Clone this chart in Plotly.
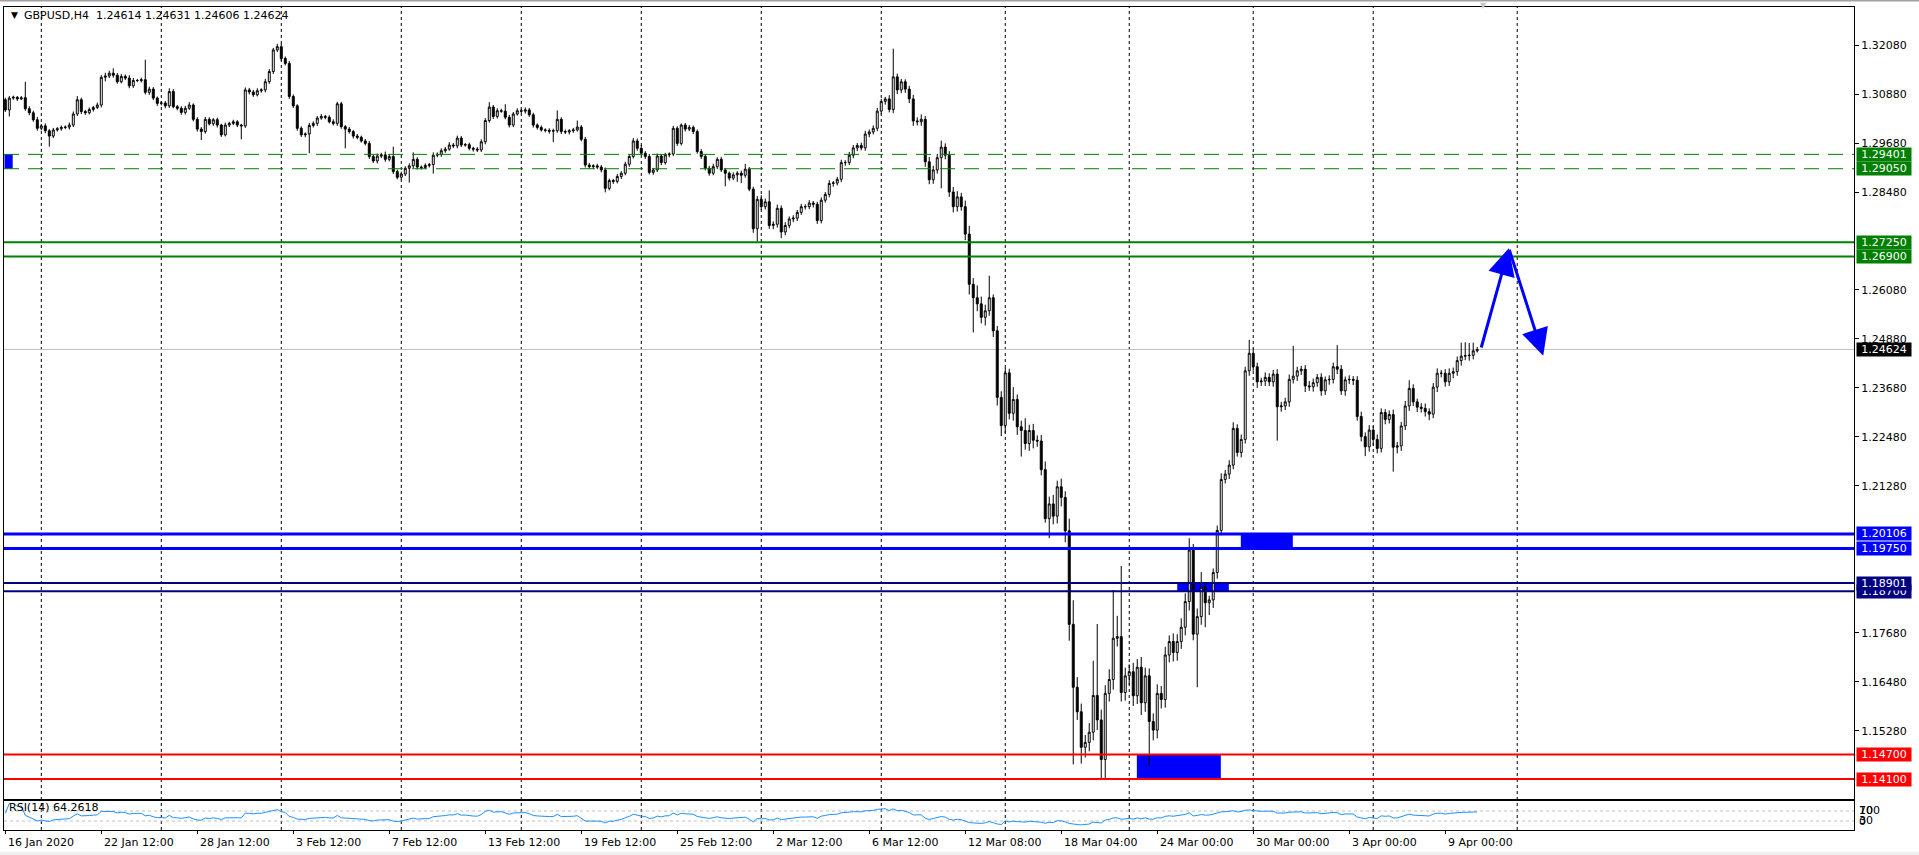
import numpy as np
import plotly.graph_objects as go

chart_title = "GBPUSD,H4\u00a0\u00a01.24614 1.24631 1.24606 1.24624"
rsi_title = "RSI(14) 64.2618"

# H4 bars, prices in pips (x 1e-4). open of the first bar, then every close
first_open = 13074
closes = [
    13049, 13078, 13080, 13076, 13079, 13052, 13042, 13025, 13004, 13010,
    12998, 12985, 13000, 13003, 13006, 13007, 13012, 13039, 13074, 13045,
    13042, 13050, 13055, 13061, 13129, 13132, 13139, 13134, 13118, 13131,
    13127, 13108, 13121, 13121, 13123, 13092, 13100, 13078, 13065, 13066,
    13059, 13094, 13057, 13053, 13043, 13053, 13061, 13026, 13002, 12996,
    13026, 13015, 13025, 13012, 12988, 13012, 13016, 13020, 13012, 13010,
    13098, 13093, 13086, 13096, 13098, 13118, 13143, 13196, 13204, 13175,
    13163, 13082, 13059, 13004, 12988, 12990, 13011, 13016, 13029, 13033,
    13031, 13020, 13016, 13064, 13008, 13002, 12996, 12985, 12982, 12973,
    12967, 12935, 12924, 12936, 12939, 12928, 12935, 12898, 12884, 12892,
    12906, 12912, 12928, 12909, 12908, 12913, 12915, 12938, 12940, 12949,
    12953, 12963, 12961, 12980, 12963, 12964, 12955, 12953, 12951, 12971,
    13023, 13056, 13033, 13047, 13046, 13031, 13012, 13039, 13047, 13046,
    13049, 13037, 13012, 13006, 13000, 12999, 12997, 12998, 13026, 12996,
    12995, 12998, 13000, 13007, 12977, 12914, 12910, 12912, 12909, 12902,
    12857, 12876, 12874, 12886, 12894, 12916, 12935, 12973, 12955, 12943,
    12935, 12896, 12902, 12936, 12920, 12939, 12941, 13004, 12967, 13012,
    13002, 13006, 12996, 12947, 12935, 12906, 12894, 12910, 12928, 12902,
    12894, 12882, 12890, 12894, 12889, 12904, 12855, 12758, 12830, 12812,
    12824, 12766, 12769, 12808, 12750, 12766, 12782, 12784, 12798, 12812,
    12812, 12821, 12818, 12778, 12828, 12842, 12869, 12870, 12879, 12920,
    12920, 12938, 12956, 12962, 12956, 12990, 12995, 13004, 13046, 13070,
    13076, 13050, 13130, 13098, 13118, 13100, 13076, 13022, 13020, 13026,
    12922, 12878, 12902, 12932, 12958, 12938, 12848, 12812, 12836, 12812,
    12745, 12622, 12589, 12574, 12541, 12557, 12589, 12508, 12345, 12276,
    12405, 12306, 12340, 12273, 12264, 12232, 12264, 12240, 12238, 12168,
    12048, 12084, 12054, 12126, 12100, 12018, 11789, 11635, 11575, 11488,
    11500, 11525, 11615, 11555, 11458, 11620, 11654, 11755, 11759, 11622,
    11663, 11673, 11614, 11684, 11597, 11663, 11551, 11530, 11620, 11605,
    11714, 11747, 11720, 11747, 11782, 11845, 11971, 11765, 11808, 11880,
    11842, 11849, 11916, 12019, 12144, 12157, 12179, 12269, 12210, 12242,
    12410, 12453, 12420, 12383, 12385, 12394, 12383, 12402, 12322, 12324,
    12334, 12389, 12397, 12410, 12414, 12373, 12371, 12381, 12394, 12361,
    12388, 12389, 12420, 12414, 12361, 12388, 12389, 12387, 12298, 12249,
    12224, 12265, 12242, 12220, 12308, 12291, 12303, 12223, 12226, 12275,
    12324, 12367, 12334, 12321, 12318, 12310, 12304, 12370, 12404, 12404,
    12383, 12404, 12408, 12435, 12446, 12447, 12448, 12459, 12462,
]
# upper / lower shadow length of each bar, in pips
wick_up = [
    5, 5, 4, 3, 4, 39, 6, 5, 7, 5, 6, 4, 5, 4, 5, 4, 6, 6, 9, 5,
    4, 5, 4, 6, 5, 8, 6, 12, 5, 6, 5, 7, 6, 4, 5, 49, 6, 5, 4, 5,
    5, 8, 6, 4, 5, 6, 7, 4, 5, 5, 6, 5, 4, 5, 3, 6, 4, 5, 4, 3,
    6, 5, 5, 6, 4, 7, 6, 5, 7, 8, 5, 6, 5, 4, 5, 4, 6, 5, 5, 6,
    4, 5, 6, 5, 5, 4, 5, 4, 5, 4, 5, 6, 5, 6, 5, 8, 5, 24, 5, 6,
    5, 6, 17, 5, 4, 5, 4, 7, 5, 6, 5, 7, 5, 6, 5, 4, 5, 4, 5, 6,
    6, 12, 5, 6, 5, 17, 6, 5, 6, 5, 6, 5, 5, 4, 5, 4, 5, 5, 22, 5,
    5, 4, 5, 16, 5, 6, 5, 4, 5, 5, 6, 5, 4, 6, 5, 6, 6, 7, 6, 8,
    5, 6, 5, 6, 5, 5, 4, 6, 5, 4, 5, 6, 5, 5, 6, 5, 6, 7, 5, 6,
    5, 4, 6, 5, 6, 13, 5, 6, 8, 10, 8, 28, 7, 9, 7, 8, 6, 7, 6, 7,
    6, 7, 5, 6, 7, 6, 8, 5, 6, 7, 6, 8, 7, 6, 7, 8, 6, 7, 8, 6,
    5, 9, 69, 8, 7, 6, 8, 10, 9, 12, 8, 12, 10, 9, 16, 9, 10, 12, 14, 10,
    15, 20, 15, 30, 18, 15, 54, 8, 12, 15, 12, 10, 30, 12, 15, 30, 14, 16, 12, 15,
    20, 18, 22, 15, 20, 15, 30, 59, 25, 20, 18, 22, 85, 175, 25, 20, 25, 118, 51, 173,
    20, 18, 22, 20, 25, 20, 18, 20, 22, 18, 20, 15, 20, 18, 22, 20, 29, 15, 20, 37,
    12, 10, 10, 12, 15, 10, 12, 15, 10, 12, 10, 33, 12, 10, 8, 12, 10, 10, 12, 10,
    10, 12, 74, 10, 8, 10, 12, 10, 8, 10, 8, 10, 10, 53, 10, 8, 10, 8, 10, 12,
    10, 12, 10, 12, 10, 8, 10, 12, 10, 10, 12, 20, 10, 8, 10, 12, 8, 10, 12, 8,
    10, 12, 10, 10, 33, 33, 30, 20, 6,
]
wick_dn = [
    5, 16, 4, 5, 3, 5, 6, 5, 6, 5, 6, 26, 5, 4, 5, 4, 6, 5, 5, 6,
    5, 4, 5, 4, 6, 10, 5, 6, 5, 4, 5, 6, 5, 4, 5, 5, 6, 5, 6, 5,
    6, 5, 4, 5, 6, 5, 4, 5, 6, 21, 5, 4, 5, 6, 5, 4, 5, 4, 5, 33,
    5, 6, 5, 4, 5, 6, 5, 6, 5, 6, 5, 6, 5, 6, 5, 6, 47, 5, 6, 4,
    5, 4, 5, 6, 5, 47, 5, 6, 5, 4, 5, 6, 5, 6, 5, 6, 5, 6, 5, 6,
    5, 35, 5, 6, 5, 4, 5, 22, 5, 6, 5, 4, 5, 6, 5, 4, 5, 6, 5, 5,
    6, 5, 6, 5, 4, 5, 6, 5, 4, 5, 6, 5, 6, 5, 4, 5, 6, 27, 5, 6,
    5, 6, 5, 4, 5, 6, 5, 6, 5, 6, 10, 5, 6, 5, 6, 5, 6, 5, 6, 5,
    6, 5, 6, 5, 6, 5, 6, 5, 6, 5, 6, 5, 6, 5, 6, 5, 6, 5, 6, 5,
    32, 6, 5, 17, 19, 6, 5, 10, 31, 8, 7, 8, 9, 8, 15, 8, 7, 8, 7, 6,
    7, 6, 8, 8, 7, 6, 7, 8, 6, 7, 8, 6, 7, 8, 6, 7, 8, 6, 7, 8,
    8, 7, 9, 10, 8, 9, 10, 12, 9, 10, 12, 11, 10, 9, 75, 10, 12, 14, 12, 10,
    15, 25, 85, 18, 15, 20, 12, 15, 20, 26, 19, 15, 18, 20, 64, 15, 18, 20, 14, 14,
    10, 48, 20, 18, 22, 28, 40, 189, 20, 40, 25, 22, 20, 25, 48, 48, 20, 25, 20, 22,
    20, 22, 25, 20, 30, 22, 109, 25, 20, 22, 20, 18, 22, 20, 18, 20, 22, 15, 130, 20,
    60, 30, 20, 15, 12, 10, 12, 10, 10, 12, 10, 12, 10, 15, 10, 12, 10, 12, 83, 12,
    10, 12, 10, 12, 10, 15, 10, 12, 10, 12, 10, 12, 10, 12, 10, 12, 10, 12, 10, 12,
    23, 12, 15, 12, 10, 12, 10, 60, 15, 12, 10, 12, 10, 12, 10, 12, 15, 10, 12, 10,
    12, 10, 12, 10, 12, 10, 12, 10, 4,
]

date_bars = [0, 24, 48, 72, 96, 120, 144, 168, 192, 216, 240, 264, 288, 312, 336, 360]
date_labels = ["16 Jan 2020", "22 Jan 12:00", "28 Jan 12:00", "3 Feb 12:00", "7 Feb 12:00",
               "13 Feb 12:00", "19 Feb 12:00", "25 Feb 12:00", "2 Mar 12:00", "6 Mar 12:00",
               "12 Mar 08:00", "18 Mar 04:00", "24 Mar 00:00", "30 Mar 00:00", "3 Apr 00:00",
               "9 Apr 00:00"]
grid_bars = [9, 39, 69, 99, 129, 159, 189, 219, 250, 281, 312, 342, 378]
price_ticks = [1.32080, 1.30880, 1.29680, 1.28480, 1.26080, 1.24880, 1.23680,
               1.22480, 1.21280, 1.17680, 1.16480, 1.15280]

green_dashed = [1.29401, 1.29050]
green_solid = [1.27250, 1.26900]
last_price = 1.24624
blue_levels = [1.20106, 1.19750]
navy_levels = [1.18700, 1.18901]
red_levels = [1.14700, 1.14100]

zone_bars = [(-0.2, 1.85), (282.9, 303.9), (293.0, 305.9), (308.9, 321.9)]
zone_prices = [(1.29050, 1.29401), (1.14100, 1.14700), (1.18700, 1.18901), (1.19750, 1.20106)]

arrow_bars = [368.9, 375.9, 384.5]
arrow_prices = [1.24635, 1.27101, 1.24470]

# ---- candles
c = np.array(closes, dtype=float)
o = np.concatenate([[first_open], c[:-1]])
h = np.maximum(o, c) + np.array(wick_up)
l = np.minimum(o, c) - np.array(wick_dn)
o, h, l, c = o / 1e4, h / 1e4, l / 1e4, c / 1e4
bars = np.arange(len(c))

# ---- RSI(14), Wilder
d = np.diff(c, prepend=c[0])
g = np.where(d > 0, d, 0.0)
ls = np.where(d < 0, -d, 0.0)
ag = np.zeros(len(c))
al = np.zeros(len(c))
for i in range(1, len(c)):
    if i <= 14:
        ag[i] = g[1:i + 1].mean()
        al[i] = ls[1:i + 1].mean()
    else:
        ag[i] = (ag[i - 1] * 13 + g[i]) / 14
        al[i] = (al[i - 1] * 13 + ls[i]) / 14
rsi = np.where(al == 0, 100.0, 100 - 100 / (1 + ag / np.where(al == 0, 1, al)))
rsi[0] = 60.0

FONT = "DejaVu Sans"
FS = 11

fig = go.Figure()
fig.add_trace(go.Candlestick(
    x=bars, open=o, high=h, low=l, close=c,
    increasing=dict(line=dict(color="black", width=1), fillcolor="white"),
    decreasing=dict(line=dict(color="black", width=1), fillcolor="black"),
    whiskerwidth=0, xaxis="x", yaxis="y", showlegend=False, hoverinfo="skip"))
fig.add_trace(go.Scatter(x=bars, y=rsi, mode="lines", line=dict(color="#1e90ff", width=1),
                         xaxis="x2", yaxis="y2", showlegend=False, hoverinfo="skip"))

shapes = []
for b in grid_bars:
    shapes.append(dict(type="line", xref="x", yref="paper", x0=b, x1=b, y0=0, y1=1, layer="below",
                       line=dict(color="black", width=1, dash="3px,3px")))
for lv in [70, 30]:
    shapes.append(dict(type="line", xref="paper", yref="y2", x0=0, x1=1, y0=lv, y1=lv, layer="below",
                       line=dict(color="#c0c0c0", width=1, dash="3px,3px")))
for (b0, b1), (p0, p1) in zip(zone_bars, zone_prices):
    shapes.append(dict(type="rect", xref="x", yref="y", x0=b0, x1=b1, y0=p0, y1=p1, layer="below",
                       fillcolor="#0000ff", line=dict(width=0)))
shapes.append(dict(type="line", xref="paper", yref="y", x0=0, x1=1, y0=last_price, y1=last_price,
                   layer="below", line=dict(color="#c0c0c0", width=1)))


def hline(p, color, width, dash="solid"):
    shapes.append(dict(type="line", xref="paper", yref="y", x0=0, x1=1, y0=p, y1=p, layer="above",
                       line=dict(color=color, width=width, dash=dash)))


for p in green_dashed:
    hline(p, "#008000", 1, "15px,9px")
for p in green_solid:
    hline(p, "#008000", 2)
for p in blue_levels:
    hline(p, "#0000ff", 3)
for p in navy_levels:
    hline(p, "#000080", 2)
for p in red_levels:
    hline(p, "#ff0000", 2)

# window edges
shapes.append(dict(type="rect", xref="paper", yref="paper", x0=-0.01, x1=1.04, y0=1.0068, y1=1.012,
                   fillcolor="#a0a0a0", line=dict(width=0), layer="above"))
shapes.append(dict(type="rect", xref="paper", yref="paper", x0=-0.01, x1=1.04, y0=-0.031, y1=-0.0265,
                   fillcolor="#f0f0f0", line=dict(width=0), layer="above"))

ann = []
ann.append(dict(text="▼", xref="paper", yref="paper", x=0, y=1, xshift=5, yshift=-8, xanchor="left",
                yanchor="middle", showarrow=False, font=dict(family=FONT, size=9, color="black")))
ann.append(dict(text=chart_title, xref="paper", yref="paper", x=0, y=1, xshift=18, yshift=-8,
                xanchor="left", yanchor="middle", showarrow=False,
                font=dict(family=FONT, size=FS, color="black")))
ann.append(dict(text="▼", xref="x", yref="paper", x=369.5, y=1, yshift=2, xanchor="center",
                yanchor="middle", showarrow=False, font=dict(family=FONT, size=8, color="#c8c8c8")))
ann.append(dict(text=rsi_title, xref="paper", yref="y2", x=0, y=82, xshift=3, xanchor="left",
                yanchor="middle", showarrow=False, font=dict(family=FONT, size=FS, color="black")))
for b, t in zip(date_bars, date_labels):
    ann.append(dict(text=t, xref="x", yref="paper", x=b, y=0, xshift=1, yshift=-12, xanchor="left",
                    yanchor="middle", showarrow=False, font=dict(family=FONT, size=FS, color="black")))
# MetaTrader prints the RSI scale labels on top of each other
for t, lv in [("100", 72), ("70", 70), ("30", 30), ("0", 28)]:
    ann.append(dict(text=t, xref="paper", yref="y2", x=1, y=lv, xshift=3, xanchor="left",
                    yanchor="middle", showarrow=False, font=dict(family=FONT, size=FS, color="black")))


def price_box(p, bg):
    ann.append(dict(text=f"{p:.5f}", xref="paper", yref="y", x=1, y=p, xshift=2, xanchor="left",
                    yanchor="middle", showarrow=False, bgcolor=bg, width=54, height=13, borderpad=0,
                    align="center", font=dict(family=FONT, size=FS, color="white")))


for p in green_dashed + green_solid:
    price_box(p, "#008000")
price_box(last_price, "#000000")
for p in blue_levels:
    price_box(p, "#0000ff")
for p in navy_levels:
    price_box(p, "#000080")
for p in red_levels:
    price_box(p, "#ff0000")

# forecast arrows
for k in range(2):
    ann.append(dict(x=arrow_bars[k + 1], y=arrow_prices[k + 1], ax=arrow_bars[k], ay=arrow_prices[k],
                    xref="x", yref="y", axref="x", ayref="y", text="", showarrow=True,
                    arrowhead=2, arrowsize=1.8, arrowwidth=3, arrowcolor="#0000ff",
                    standoff=0, startstandoff=0))

fig.update_layout(
    width=1919, height=855,
    margin=dict(l=4, r=65, t=7, b=25),
    paper_bgcolor="white", plot_bgcolor="white",
    font=dict(family=FONT, size=FS, color="black"),
    shapes=shapes, annotations=ann, hovermode=False,
    xaxis=dict(domain=[0, 1], range=[-0.325, 462.2], anchor="y", showgrid=False, zeroline=False,
               showticklabels=False, ticks="", showline=True, mirror=True, linecolor="black",
               linewidth=1, rangeslider=dict(visible=False), fixedrange=True),
    yaxis=dict(domain=[0.03767, 1], range=[1.13613, 1.33011], side="right", anchor="x",
               tickvals=price_ticks, ticktext=[f"{p:.5f}" for p in price_ticks],
               ticks="outside", ticklen=4, tickcolor="black", showgrid=False, zeroline=False,
               showline=True, mirror=True, linecolor="black", linewidth=1,
               tickfont=dict(family=FONT, size=FS, color="black"), fixedrange=True),
    xaxis2=dict(domain=[0, 1], matches="x", anchor="y2", showgrid=False, zeroline=False,
                tickvals=date_bars, showticklabels=False, ticks="outside", ticklen=3,
                tickcolor="black", showline=True, mirror=True, linecolor="black", linewidth=1,
                fixedrange=True),
    yaxis2=dict(domain=[0, 0.03524], range=[-6, 110], anchor="x2", showgrid=False, zeroline=False,
                showticklabels=False, ticks="", showline=True, mirror=True, linecolor="black",
                linewidth=1, fixedrange=True),
)

fig.write_html("out.html", config={"displayModeBar": False},
               post_script="document.body.style.margin='0';document.body.style.overflow='hidden';")
